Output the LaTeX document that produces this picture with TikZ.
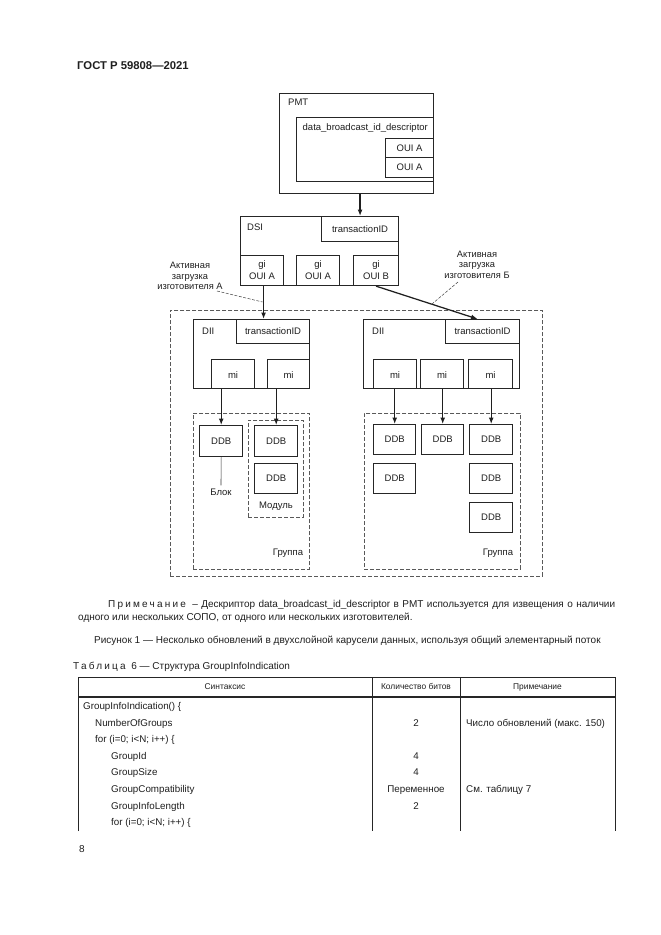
\documentclass[tikz,border=0pt]{standalone}
\usepackage{fontspec}
\setmainfont{Liberation Sans}
\usetikzlibrary{arrows.meta,calc}
\newcommand\dfont{\fontsize{9.5}{10}\selectfont}
\newcommand\nfont{\fontsize{10}{11}\selectfont}
\newcommand\thfont{\fontsize{8.4}{9}\selectfont}
\newcommand\tbfont{\fontsize{9.8}{11}\selectfont}
\newcommand\hdfont{\fontsize{11.3}{13}\selectfont\bfseries}
\newcommand\spaced[1]{{\addfontfeatures{LetterSpace=22}#1}}
\newcommand\rbox[6]{\node[#1, minimum width={#5-#3}, minimum height={#6-#4}] (#2) at (#3,#4) {};}
\begin{document}
\begin{tikzpicture}[x=1pt,y=-1pt,
  box/.style={draw=black!85, line width=1.15pt, inner sep=0pt, anchor=north west},
  ddb/.style={box, line width=1.4pt},
  dbox/.style={draw=black!65, dash pattern=on 4pt off 2pt, line width=0.7pt, inner sep=0pt, anchor=north west},
  txt/.style={inner sep=0pt, font=\dfont, text=black!88},
  arr/.style={draw=black!88, line width=1.25pt, -{Latex[length=6.5pt,width=5pt]}},
  lead/.style={draw=black!75, dash pattern=on 3pt off 1.5pt, line width=0.5pt},
  tline/.style={draw=black!85, line width=0.9pt},
]
\useasboundingbox[fill=white] (0,0) rectangle (661,935);

% page header
\node[txt, font=\hdfont, anchor=mid west] (hdr) at (77,67) {ГОСТ Р 59808—2021};

% PMT
\rbox{box}{pmt}{279}{93}{433}{193}
\node[txt, anchor=mid west] (pmtl) at (288,103) {PMT};
\rbox{box}{dbid}{296}{117}{433}{181}
\node[txt, anchor=mid west] (dbidl) at (302.5,128) {data\_broadcast\_id\_descriptor};
\rbox{box}{oui1}{385}{138}{433}{157}
\rbox{box}{oui2}{385}{157}{433}{177}
\node[txt] (oui1l) at (oui1.center) {OUI A};
\node[txt] (oui2l) at (oui2.center) {OUI A};

% DSI
\rbox{box}{dsi}{240}{216}{398}{285}
\node[txt, anchor=mid west] (dsil) at (247,228) {DSI};
\rbox{box}{tid0}{321}{216}{398}{241}
\node[txt] (tid0l) at (tid0.center) {transactionID};
\rbox{box}{gi1}{240}{255}{283}{285}
\rbox{box}{gi2}{296}{255}{339}{285}
\rbox{box}{gi3}{353}{255}{398}{285}
\foreach \g/\o in {gi1/OUI A, gi2/OUI A, gi3/OUI B}{
  \node[txt, anchor=base] (\g a) at (\g.center |- 0,267) {gi};
  \node[txt] (\g b) at (\g.center |- 0,276.5) {\o};
}
\draw[arr] (pmt.south -| tid0.north) -- (tid0.north);

% labels
\node[txt, align=center, font=\fontsize{9.3}{10.5}\selectfont] (actA) at (190,276) {Активная\\загрузка\\изготовителя А};
\node[txt, align=center, font=\fontsize{9.3}{10.5}\selectfont] (actB) at (477,264.5) {Активная\\загрузка\\изготовителя Б};

% outer dashed frame
\rbox{dbox}{outer}{170}{310}{542}{576}

% left DII
\rbox{box}{dii1}{193}{319}{309}{388}
\node[txt, anchor=mid west] (dii1l) at (202,332) {DII};
\rbox{box}{tid1}{236}{319}{309}{343}
\node[txt] (tid1l) at (tid1.center) {transactionID};
\rbox{box}{mi11}{211}{359}{254}{388}
\rbox{box}{mi12}{267}{359}{309}{388}

% right DII
\rbox{box}{dii2}{363}{319}{519}{388}
\node[txt, anchor=mid west] (dii2l) at (372,332) {DII};
\rbox{box}{tid2}{445}{319}{519}{343}
\node[txt] (tid2l) at (tid2.center) {transactionID};
\rbox{box}{mi21}{373}{359}{416}{388}
\rbox{box}{mi22}{420}{359}{463}{388}
\rbox{box}{mi23}{468}{359}{512}{388}
\foreach \m in {mi11,mi12,mi21,mi22,mi23}{\node[txt] (\m l) at ($(\m.center)+(0,1)$) {mi};}

% arrows DSI -> DII
\coordinate (aL) at ($(gi1.south)+(1.5,0)$);
\draw[arr] (aL) -- (aL |- dii1.north);
\draw[arr] (gi3.south) -- ($(tid2.north)+(-5,0)$);
\coordinate (ldA) at (217,291);
\coordinate (ldAe) at (262.5,302);
\draw[lead] (ldA) -- (ldAe);
\coordinate (ldB) at (458,282);
\coordinate (ldBe) at (432,304);
\draw[lead] (ldB) -- (ldBe);

% groups
\rbox{dbox}{grp1}{193}{413}{309}{569}
\rbox{dbox}{grp2}{364}{413}{520}{569}
\rbox{dbox}{modl}{248}{420}{303}{517}
\rbox{ddb}{d1}{199}{425}{242}{456}
\rbox{ddb}{d2}{254}{425}{297}{456}
\rbox{ddb}{d3}{254}{463}{297}{493}
\rbox{ddb}{e11}{373}{424}{415}{454}
\rbox{ddb}{e12}{421}{424}{463}{454}
\rbox{ddb}{e13}{469}{424}{512}{454}
\rbox{ddb}{e21}{373}{463}{415}{493}
\rbox{ddb}{e23}{469}{463}{512}{493}
\rbox{ddb}{e33}{469}{502}{512}{532}
\foreach \d in {d1,d2,d3,e11,e12,e13,e21,e23,e33}{\node[txt] (\d l) at (\d.center) {DDB};}

\draw[arr] (mi11.south -| d1.north) -- (d1.north);
\draw[arr] (mi12.south -| d2.north) -- (d2.north);
\draw[arr] (mi21.south -| e11.north) -- (e11.north);
\draw[arr] (mi22.south -| e12.north) -- (e12.north);
\draw[arr] (mi23.south -| e13.north) -- (e13.north);

\node[txt] (blok) at (221,492) {Блок};
\draw[draw=black!80, line width=0.6pt] (d1.south) -- ($(blok.north)+(0,-3)$);
\node[txt] (modt) at (276,506) {Модуль};
\node[txt] (grp1l) at (288,553) {Группа};
\node[txt] (grp2l) at (498,553) {Группа};

% note and caption
\node[txt, font=\nfont, anchor=mid west] (note1) at (108,605) {\makebox[507pt][s]{\spaced{Примечание}\hspace{3pt} – Дескриптор data\_broadcast\_id\_descriptor в PMT используется для извещения о наличии}};
\node[txt, font=\nfont, anchor=mid west] (note2) at (78,618) {одного или нескольких СОПО, от одного или нескольких изготовителей.};
\node[txt, font=\nfont, anchor=mid west] (capt) at (94,641) {Рисунок 1 — Несколько обновлений в двухслойной карусели данных, используя общий элементарный поток};
\node[txt, font=\nfont, anchor=mid west] (tcap) at (73,667) {\spaced{Таблица}\hspace{3pt} 6 — Структура GroupInfoIndication};

% table
\draw[tline] (78,831) -- (78,677) -- (615,677) -- (615,831);
\draw[tline] (372,677) -- (372,831);
\draw[tline] (460,677) -- (460,831);
\draw[draw=black!85, line width=1.7pt] (78,697) -- (615,697);
\node[txt, font=\thfont, anchor=mid] (th1) at (225,687) {Синтаксис};
\node[txt, font=\thfont, anchor=mid] (th2) at (416,687) {Количество битов};
\node[txt, font=\thfont, anchor=mid] (th3) at (537.5,687) {Примечание};
\node[txt, font=\tbfont, anchor=mid west] (r1) at (83,707) {GroupInfoIndication() \{};
\node[txt, font=\tbfont, anchor=mid west] (r2) at (95,723.5) {NumberOfGroups};
\node[txt, font=\tbfont, anchor=mid west] (r3) at (95,740) {for (i=0; i<N; i++) \{};
\node[txt, font=\tbfont, anchor=mid west] (r4) at (111,756.5) {GroupId};
\node[txt, font=\tbfont, anchor=mid west] (r5) at (111,773) {GroupSize};
\node[txt, font=\tbfont, anchor=mid west] (r6) at (111,790) {GroupCompatibility};
\node[txt, font=\tbfont, anchor=mid west] (r7) at (111,806.5) {GroupInfoLength};
\node[txt, font=\tbfont, anchor=mid west] (r8) at (111,823) {for (i=0; i<N; i++) \{};
\node[txt, font=\tbfont, anchor=mid] (b2) at (416,723.5) {2};
\node[txt, font=\tbfont, anchor=mid] (b4) at (416,756.5) {4};
\node[txt, font=\tbfont, anchor=mid] (b5) at (416,773) {4};
\node[txt, font=\tbfont, anchor=mid] (b6) at (416,790) {Переменное};
\node[txt, font=\tbfont, anchor=mid] (b7) at (416,806.5) {2};
\node[txt, font=\tbfont, anchor=mid west] (c2) at (466,723.5) {Число обновлений (макс. 150)};
\node[txt, font=\tbfont, anchor=mid west] (c6) at (466,790) {См. таблицу 7};

\node[txt, font=\nfont, anchor=mid west] (pg) at (79,850) {8};
\end{tikzpicture}
\end{document}
